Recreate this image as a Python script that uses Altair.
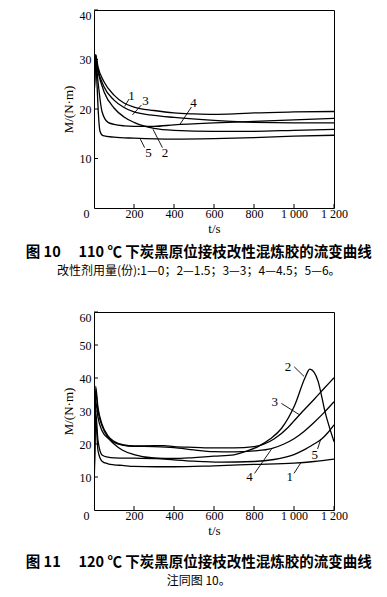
import altair as alt
import pandas as pd

# ---------------- Figure 10 (110 C) ----------------
T10_1 = [0, 8, 20, 50, 100, 150, 200, 300, 400, 500, 600, 700, 800, 1000, 1200]
M10_1 = [21, 31, 28.5, 25.5, 22.8, 21.2, 20.4, 19.7, 19.2, 19.0, 18.9, 19.0, 19.2, 19.4, 19.5]
T10_2 = [0, 8, 20, 50, 100, 150, 200, 300, 400, 600, 800, 1000, 1200]
M10_2 = [21, 30, 27.5, 23.5, 20.2, 18.4, 17.3, 16.1, 15.7, 15.5, 15.5, 15.7, 15.9]
T10_3 = [0, 8, 20, 50, 100, 150, 200, 300, 400, 600, 800, 1000, 1200]
M10_3 = [21, 31, 28, 24.5, 21.8, 20.3, 19.4, 18.7, 18.3, 17.7, 17.3, 17.2, 17.2]
T10_4 = [0, 8, 20, 40, 70, 100, 150, 200, 300, 400, 600, 800, 1000, 1200]
M10_4 = [21, 30, 25.5, 19.5, 17.3, 16.9, 16.6, 16.5, 16.5, 16.8, 17.2, 17.5, 17.8, 18.1]
T10_5 = [0, 8, 15, 22, 30, 45, 100, 200, 400, 600, 800, 1000, 1200]
M10_5 = [21, 30, 25, 19, 15.5, 14.6, 14.3, 14.1, 13.9, 14.0, 14.2, 14.5, 14.7]

# curve labels and leader lines (figure 10)
LAB10 = ["1", "3", "4", "2", "5"]
LAB10_T = [187, 258, 498, 355, 273]
LAB10_M = [22.6, 21.6, 21.3, 11.2, 11.2]
LEAD10_T1 = [175, 237, 487, 342, 253]
LEAD10_M1 = [22.0, 20.8, 20.4, 12.2, 12.2]
LEAD10_T2 = [153, 192, 428, 295, 232]
LEAD10_M2 = [20.5, 18.8, 16.8, 15.9, 13.9]

# ---------------- Figure 11 (120 C) ----------------
T11_1 = [0, 8, 20, 40, 70, 100, 141, 200, 311, 400, 600, 800, 1000, 1100, 1200]
M11_1 = [2, 28, 18, 14.8, 14.0, 13.7, 13.5, 13.2, 13.1, 13.1, 13.4, 13.8, 14.2, 14.7, 15.4]
T11_2 = [0, 8, 20, 40, 75, 100, 141, 200, 311, 400, 500, 600, 700, 760, 820, 880, 937,
         1004, 1054, 1079, 1100, 1121, 1140, 1155, 1180, 1200]
M11_2 = [2, 33, 28, 24, 21.5, 20, 18.2, 16.8, 15.7, 15.6, 15.9, 16.3, 16.7, 17.8, 19.2, 21.5, 24.7,
         31.8, 39.9, 42.7, 41.8, 38.9, 34, 29.8, 24.5, 20.7]
T11_3 = [0, 8, 20, 40, 70, 100, 150, 200, 300, 350, 400, 500, 600, 700, 800, 900, 970,
         1000, 1050, 1100, 1150, 1200]
M11_3 = [2, 37.5, 31, 26, 22.5, 20.8, 19.7, 19.4, 19.5, 19.5, 19.2, 19.0, 18.8, 18.8, 19.2, 21.5, 25,
         27, 30.3, 33.5, 36.8, 40.1]
T11_4 = [0, 8, 20, 40, 70, 100, 150, 200, 300, 400, 500, 600, 700, 800, 887, 950, 1000, 1050,
         1100, 1150, 1200]
M11_4 = [2, 36, 30, 25.5, 22, 20.5, 19.6, 19.3, 19.2, 18.9, 18.2, 17.7, 17.6, 17.9, 18.6, 20.0, 21.6,
         23.8, 26.5, 29.5, 32.8]
T11_5 = [0, 8, 20, 40, 70, 100, 200, 311, 400, 500, 628, 800, 900, 1000, 1050, 1100, 1138, 1170, 1200]
M11_5 = [2, 30, 21, 16.7, 16.0, 15.8, 15.7, 15.6, 15.2, 14.8, 14.5, 14.7, 15.3, 16.8, 18.2, 20.0,
         21.5, 23.5, 25.8]

LAB11 = ["2", "3", "4", "1", "5"]
LAB11_T = [970, 904, 778, 979, 1104]
LAB11_M = [43.4, 32.8, 10.1, 10.1, 16.7]
LEAD11_T1 = [1001, 937, 803, 1000, 1118]
LEAD11_M1 = [43.4, 32.3, 11.1, 11.1, 18.5]
LEAD11_T2 = [1050, 1029, 887, 1034, 1134]
LEAD11_M2 = [40.5, 28.8, 18.4, 14.3, 21.5]

# axes
X_TICKS = [0, 200, 400, 600, 800, 1000, 1200]
X_TICK_LABELS = ["0", "200", "400", "600", "800", "1 000", "1 200"]
Y10_TICKS = [10, 20, 30, 40]
Y11_TICKS = [10, 20, 30, 40, 50, 60]

TITLE10 = "图 10\u3000 110 ℃ 下炭黑原位接枝改性混炼胶的流变曲线"
SUB10 = "改性剂用量(份):1—0；2—1.5；3—3；4—4.5；5—6。"
TITLE11 = "图 11\u3000 120 ℃ 下炭黑原位接枝改性混炼胶的流变曲线"
SUB11 = "注同图 10。"

W, H = 240, 198
SERIF = "Liberation Serif"
CJK = "Noto Sans CJK SC"

x_label_expr = "".join(f"datum.value == {v} ? '{l}' : " for v, l in zip(X_TICKS, X_TICK_LABELS)) + "''"


def panel(ts, ms, labs, lab_t, lab_m, l_t1, l_m1, l_t2, l_m2, ymax, yticks, title, subtitle,
          t_offset, s_pad):
    rows = []
    for i, (tt, mm) in enumerate(zip(ts, ms)):
        for a, b in zip(tt, mm):
            rows.append({"curve": i, "t": a, "M": b})
    df = pd.DataFrame(rows)
    xs = alt.Scale(domain=[0, 1200], nice=False, zero=False)
    ys = alt.Scale(domain=[0, ymax], nice=False)
    xaxis = alt.Axis(values=X_TICKS, labelExpr=x_label_expr, title="t/s", tickCount=50,
                     ticks=False, tickSize=0, domain=False, grid=False,
                     labelPadding=0, titlePadding=3,
                     labelOffset={"condition": {"test": "datum.value == 0", "value": -8}, "value": 0})
    yaxis = alt.Axis(values=yticks, title="M/(N·m)", tickCount=50,
                     ticks=False, tickSize=0, domain=False, grid=False,
                     labelPadding=3, titlePadding=4,
                     labelOffset={"condition": {"test": f"datum.value == {ymax}", "value": 5}, "value": 0})
    lines = alt.Chart(df).mark_line(color="black", strokeWidth=1.3, interpolate="monotone",
                                    clip=True).encode(
        x=alt.X("t:Q", scale=xs, axis=xaxis),
        y=alt.Y("M:Q", scale=ys, axis=yaxis),
        detail="curve:N",
    )
    xt = alt.Chart(pd.DataFrame({"v": X_TICKS[1:]})).mark_rule(color="black", strokeWidth=1).encode(
        x=alt.X("v:Q", scale=xs), y=alt.value(H), y2=alt.value(H - 4))
    yt = alt.Chart(pd.DataFrame({"v": yticks})).mark_rule(color="black", strokeWidth=1).encode(
        y=alt.Y("v:Q", scale=ys), x=alt.value(0), x2=alt.value(4))
    ann = pd.DataFrame({"lab": labs, "lt": lab_t, "lm": lab_m, "t1": l_t1, "m1": l_m1,
                        "t2": l_t2, "m2": l_m2})
    leads = alt.Chart(ann).mark_rule(color="black", strokeWidth=0.9).encode(
        x=alt.X("t1:Q", scale=xs), y=alt.Y("m1:Q", scale=ys),
        x2="t2:Q", y2="m2:Q")
    texts = alt.Chart(ann).mark_text(font=SERIF, fontSize=13, color="black").encode(
        x=alt.X("lt:Q", scale=xs), y=alt.Y("lm:Q", scale=ys), text="lab:N")
    return alt.layer(lines, xt, yt, leads, texts).properties(
        width=W, height=H,
        title=alt.TitleParams(text=title, subtitle=subtitle, orient="bottom", anchor="middle",
                              frame="bounds", font=CJK, fontSize=14.5, fontWeight="bold",
                              color="black", subtitleFont=CJK, subtitleFontSize=12,
                              subtitleColor="black", subtitlePadding=s_pad, offset=t_offset, dx=-6),
    )


p10 = panel([T10_1, T10_2, T10_3, T10_4, T10_5], [M10_1, M10_2, M10_3, M10_4, M10_5],
            LAB10, LAB10_T, LAB10_M, LEAD10_T1, LEAD10_M1, LEAD10_T2, LEAD10_M2,
            40, Y10_TICKS, TITLE10, SUB10, 11, 5)
p11 = panel([T11_1, T11_2, T11_3, T11_4, T11_5], [M11_1, M11_2, M11_3, M11_4, M11_5],
            LAB11, LAB11_T, LAB11_M, LEAD11_T1, LEAD11_M1, LEAD11_T2, LEAD11_M2,
            60, Y11_TICKS, TITLE11, SUB11, 19, 5)

chart = alt.vconcat(p10, p11, spacing=33).properties(
    padding={"left": 17, "top": 0, "right": 0, "bottom": 0},
    background="white",
).configure_view(stroke="black", strokeWidth=1).configure_axis(
    labelFont=SERIF, labelFontSize=12,
    labelColor="black", titleFont=SERIF, titleFontSize=13, titleFontWeight="normal",
    titleColor="black", labelFlush=False, labelOverlap=False, labelSeparation=0,
)

chart.save("out.html", embed_options={"renderer": "svg", "actions": False})
